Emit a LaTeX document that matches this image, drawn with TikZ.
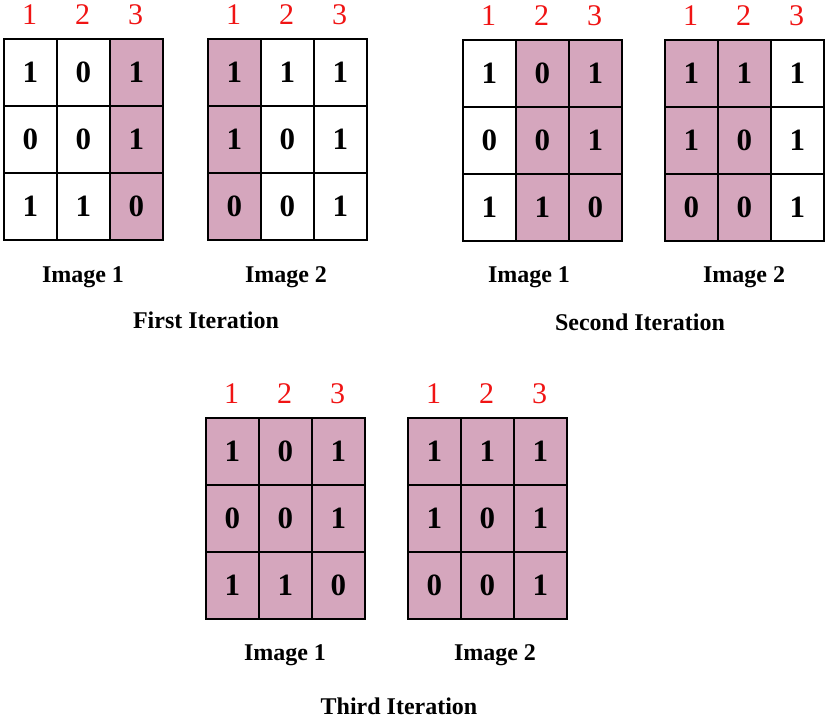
\documentclass[tikz,border=0pt]{standalone}
\usepackage{fontspec}
\setmainfont{Liberation Serif}
\definecolor{cellpink}{RGB}{213,166,189}
\definecolor{idxred}{RGB}{240,20,20}
\tikzset{
  cellbox/.style={draw=black, line width=1.5pt, minimum width=53pt, minimum height=67pt,
    anchor=north west, inner sep=0pt, font=\fontsize{31}{31}\selectfont\bfseries},
  idx/.style={text=idxred, inner sep=0pt, font=\fontsize{30}{30}\selectfont},
  imglabel/.style={inner sep=0pt, font=\fontsize{24}{24}\selectfont\bfseries},
  iterlabel/.style={inner sep=0pt, font=\fontsize{24}{24}\selectfont\bfseries}
}
% #1 name, #2 x left, #3 y top, #4 column spec: col/fill/r1/r2/r3
\newcommand{\mygrid}[4]{%
  \foreach \col/\fl/\va/\vb/\vc in {#4} {
    \node[cellbox, fill=\fl] (#1-\col-1) at ({#2+(\col-1)*53}, #3) {\va};
    \node[cellbox, fill=\fl] (#1-\col-2) at ({#2+(\col-1)*53}, {#3+67}) {\vb};
    \node[cellbox, fill=\fl] (#1-\col-3) at ({#2+(\col-1)*53}, {#3+134}) {\vc};
    \node[idx] (#1-idx-\col) at ({#2+(\col-0.5)*53}, {#3-23}) {\col};
  }%
}
\begin{document}
\begin{tikzpicture}[x=1pt, y=-1pt]
\useasboundingbox (0,0) rectangle (827,718);
% First iteration
\mygrid{ga}{3}{38}{1/white/1/0/1, 2/white/0/0/1, 3/cellpink/1/1/0}
\mygrid{gb}{207}{38}{1/cellpink/1/1/0, 2/white/1/0/0, 3/white/1/1/1}
\node[imglabel] (la) at (83,277) {Image 1};
\node[imglabel] (lb) at (286,277) {Image 2};
\node[iterlabel] (it1) at (206,320) {First Iteration};
% Second iteration
\mygrid{gc}{462}{39}{1/white/1/0/1, 2/cellpink/0/0/1, 3/cellpink/1/1/0}
\mygrid{gd}{664}{39}{1/cellpink/1/1/0, 2/cellpink/1/0/0, 3/white/1/1/1}
\node[imglabel] (lc) at (529,277) {Image 1};
\node[imglabel] (ld) at (744,277) {Image 2};
\node[iterlabel] (it2) at (640,322) {Second Iteration};
% Third iteration
\mygrid{ge}{205}{417}{1/cellpink/1/0/1, 2/cellpink/0/0/1, 3/cellpink/1/1/0}
\mygrid{gf}{407}{417}{1/cellpink/1/1/0, 2/cellpink/1/0/0, 3/cellpink/1/1/1}
\node[imglabel] (le) at (285,655) {Image 1};
\node[imglabel] (lf) at (495,655) {Image 2};
\node[iterlabel] (it3) at (399,706) {Third Iteration};
\end{tikzpicture}
\end{document}
